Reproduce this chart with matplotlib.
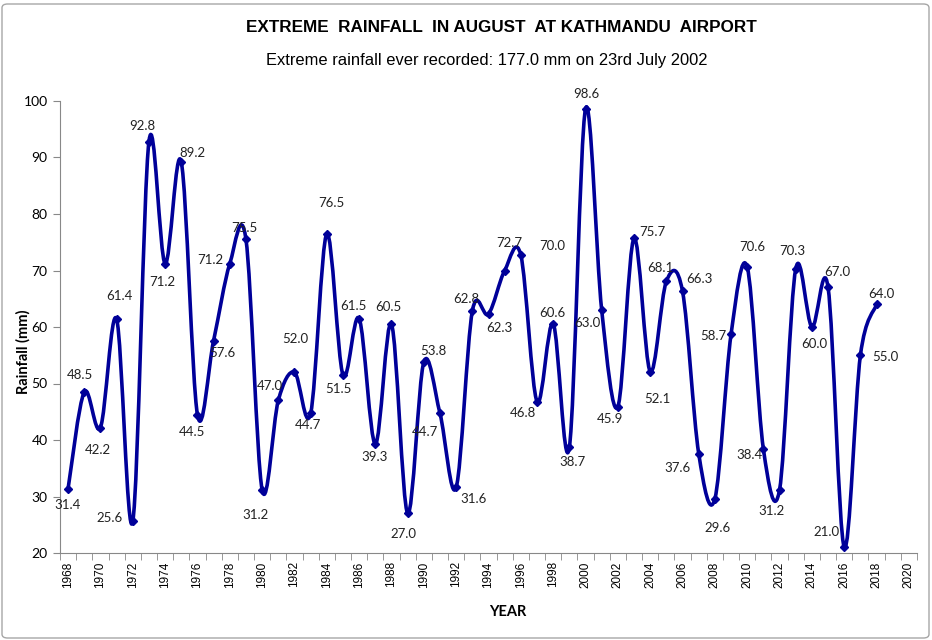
import numpy as np
import matplotlib
matplotlib.use('Agg')
import matplotlib.pyplot as plt
from matplotlib.path import Path
from matplotlib.patches import PathPatch, FancyBboxPatch

years = list(range(1968, 2019))
rainfall = [31.4, 48.5, 42.2, 61.4, 25.6, 92.8, 71.2, 89.2, 44.5, 57.6,
            71.2, 75.5, 31.2, 47.0, 52.0, 44.7, 76.5, 51.5, 61.5, 39.3,
            60.5, 27.0, 53.8, 44.7, 31.6, 62.8, 62.3, 70.0, 72.7, 46.8,
            60.6, 38.7, 98.6, 63.0, 45.9, 75.7, 52.1, 68.1, 66.3, 37.6,
            29.6, 58.7, 70.6, 38.4, 31.2, 70.3, 60.0, 67.0, 21.0, 55.0,
            64.0]
tick_years = list(range(1968, 2021, 2))

title = 'EXTREME  RAINFALL  IN AUGUST  AT KATHMANDU  AIRPORT'
subtitle = 'Extreme rainfall ever recorded: 177.0 mm on 23rd July 2002'

# label offsets in pixels (dx, dy), placed by hand like the excel chart
label_off = [(-1, -16), (-4, 17), (-3, -22), (3, 23), (-23, 3), (-7, 16),
             (-3, -18), (11, 9), (-5, -17), (9, -12), (-19, 4), (-2, 11),
             (-7, -25), (-8, 14), (1, 33), (-3, -12), (5, 31), (-5, -14),
             (-6, 13), (-1, -13), (-3, 17), (-4, -21), (10, 11), (-15, -19),
             (17, -12), (-6, 12), (11, -14), (48, 25), (-12, 12), (-14, -11),
             (-1, 11), (3, -15), (1, 15), (-14, -13), (-8, -12), (18, 6),
             (7, -27), (-6, 13), (17, 12), (-21, -14), (3, -29), (-18, -2),
             (5, 20), (-14, -6), (-8, -21), (-3, 18), (2, -17), (9, 15),
             (-18, 15), (25, -2), (5, 10)]

blue = '#000099'
grey = '#888888'
calibri = ['Lato', 'DejaVu Sans']

fig = plt.figure(figsize=(9.32, 6.4), dpi=100)
ax = fig.add_axes([60 / 932, 1 - 553 / 640, 857 / 932, 452 / 640])

# smoothed line like excel (catmull-rom as cubic bezier)
pts = np.column_stack([years, rainfall]).astype(float)
n = len(pts)
verts = [pts[0]]
codes = [Path.MOVETO]
for i in range(n - 1):
    p0 = pts[max(i - 1, 0)]
    p1 = pts[i]
    p2 = pts[i + 1]
    p3 = pts[min(i + 2, n - 1)]
    verts += [p1 + (p2 - p0) / 6, p2 - (p3 - p1) / 6, p2]
    codes += [Path.CURVE4] * 3
ax.add_patch(PathPatch(Path(verts, codes), fill=False, ec=blue, lw=2.6,
                       capstyle='round', joinstyle='round'))
ax.plot(years, rainfall, ls='none', marker='D', ms=4, color=blue)

for x, y, off in zip(years, rainfall, label_off):
    ax.annotate('%.1f' % y, (x, y), xytext=off, textcoords='offset pixels',
                ha='center', va='center', fontsize=9.5, family=calibri,
                color='#222222')

ax.set_xlim(1967.5, 2020.5)
ax.set_ylim(20, 100)
ax.set_yticks(range(20, 101, 10))
ax.set_xticks(tick_years)
ax.set_xticklabels([str(t) for t in tick_years], rotation=90,
                   family='Liberation Sans', fontsize=8.5)
ax.set_xticks(np.arange(1967.5, 2021, 1.0), minor=True)
for lab in ax.get_yticklabels():
    lab.set_family(calibri)
    lab.set_fontsize(10)
ax.tick_params(axis='x', which='major', length=0, pad=6)
ax.tick_params(axis='x', which='minor', length=5, color=grey, direction='out')
ax.tick_params(axis='y', length=5, color=grey, direction='out', pad=4)
for s in ['top', 'right']:
    ax.spines[s].set_visible(False)
for s in ['left', 'bottom']:
    ax.spines[s].set_color(grey)

fig.text(501 / 932, 1 - 28 / 640, title, ha='center', va='center',
         fontsize=12.3, fontweight='bold', family='Liberation Sans')
fig.text(487 / 932, 1 - 60 / 640, subtitle, ha='center', va='center',
         fontsize=11.9, family='Liberation Sans')
fig.text(508 / 932, 1 - 612 / 640, 'YEAR', ha='center', va='center',
         fontsize=10.5, fontweight='bold', family=calibri)
fig.text(23 / 932, 1 - 352 / 640, 'Rainfall (mm)', ha='center', va='center',
         rotation=90, fontsize=10.5, fontweight='bold', family=calibri)

fig.add_artist(FancyBboxPatch((2 / 932, 2 / 640), 927 / 932, 634 / 640,
                              boxstyle='round,pad=0,rounding_size=0.006',
                              transform=fig.transFigure, fc='none',
                              ec='#a6a6a6', lw=1))

fig.savefig('out.png', dpi=100)
